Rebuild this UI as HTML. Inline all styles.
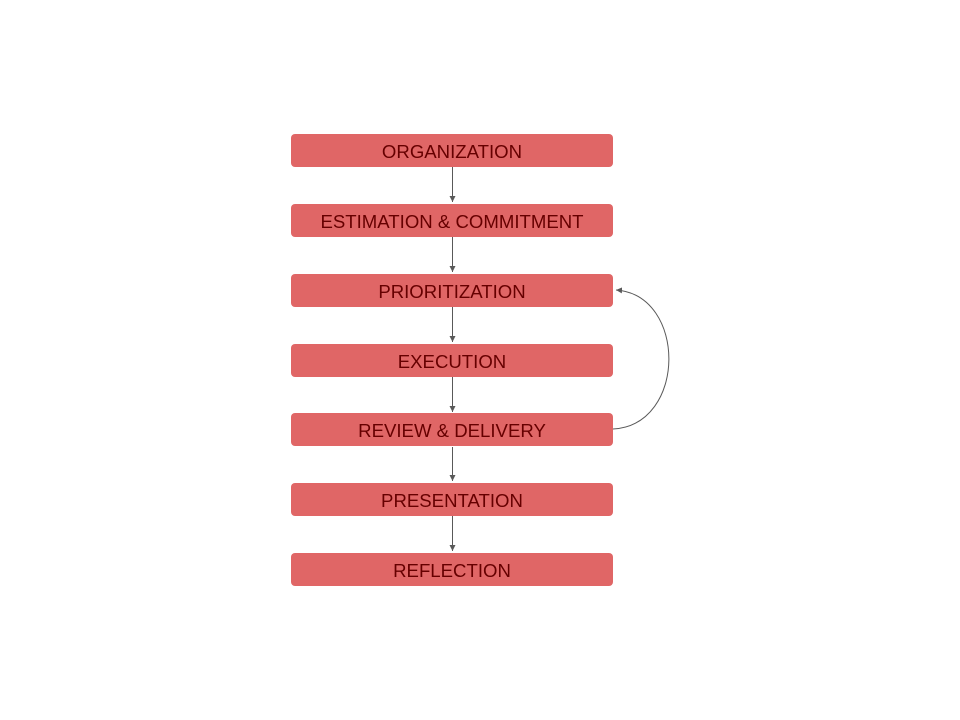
<!DOCTYPE html>
<html><head><style>
body{margin:0;width:960px;height:720px;background:#fff;position:relative;overflow:hidden;font-family:"Liberation Sans",Arial,sans-serif}
.b{position:absolute;left:291px;width:322px;height:33px;background:#e06666;border-radius:4px;color:#660000;font-size:18.6px;line-height:35px;text-align:center}
svg{position:absolute;left:0;top:0}
</style></head><body>
<svg width="960" height="720">
<defs><marker id="a" markerWidth="8" markerHeight="8" refX="6" refY="3" orient="auto"><path d="M0,0 L6,3 L0,6z" fill="#595959"/></marker></defs>
<g stroke="#595959" stroke-width="1" fill="none">
<line x1="452.5" y1="167" x2="452.5" y2="202" marker-end="url(#a)"/>
<line x1="452.5" y1="237" x2="452.5" y2="272" marker-end="url(#a)"/>
<line x1="452.5" y1="307" x2="452.5" y2="342" marker-end="url(#a)"/>
<line x1="452.5" y1="377" x2="452.5" y2="412" marker-end="url(#a)"/>
<line x1="452.5" y1="447" x2="452.5" y2="481" marker-end="url(#a)"/>
<line x1="452.5" y1="516" x2="452.5" y2="551" marker-end="url(#a)"/>
<path d="M613,429 C687,425 687,295 616,290" marker-end="url(#a)"/>
</g>
</svg>
<div class="b" style="top:134px">ORGANIZATION</div>
<div class="b" style="top:204px">ESTIMATION &amp; COMMITMENT</div>
<div class="b" style="top:274px">PRIORITIZATION</div>
<div class="b" style="top:344px">EXECUTION</div>
<div class="b" style="top:413px">REVIEW &amp; DELIVERY</div>
<div class="b" style="top:483px">PRESENTATION</div>
<div class="b" style="top:553px">REFLECTION</div>
</body></html>
